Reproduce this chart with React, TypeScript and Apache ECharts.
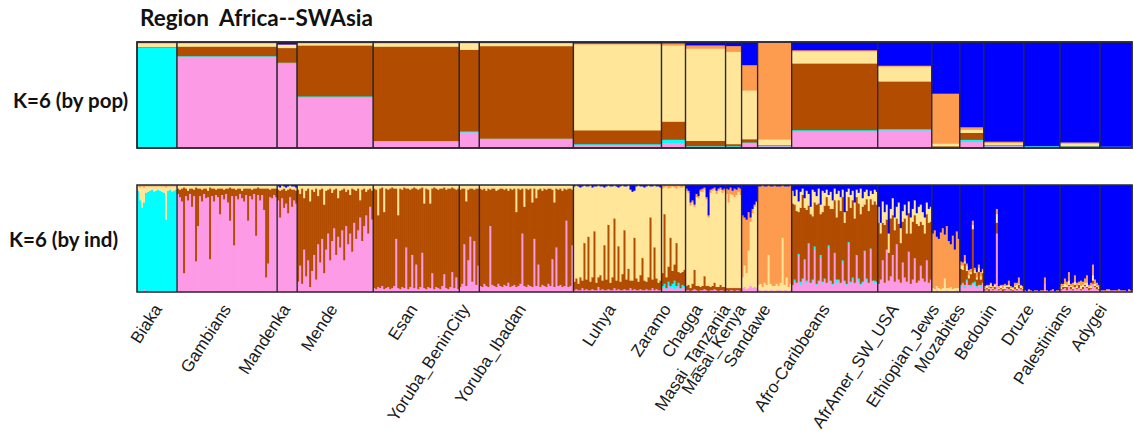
import React, { useEffect, useRef } from "react";
import * as echarts from "echarts";

// ---------------- DATA ----------------
const populations = [
  "Biaka", "Gambians", "Mandenka", "Mende", "Esan", "Yoruba_BeninCity", "Yoruba_Ibadan",
  "Luhya", "Zaramo", "Chagga", "Masai_Tanzania", "Masai_Kenya", "Sandawe", "Afro-Caribbeans",
  "AfrAmer_SW_USA", "Ethiopian_Jews", "Mozabites", "Bedouin", "Druze", "Palestinians", "Adygei",
];
// number of individuals drawn per population (bar widths)
const popSizes = [20, 50, 10, 38, 43, 10, 47, 44, 12, 20, 8, 8, 17, 43, 27, 14, 12, 20, 18, 20, 16];

// K=6 cluster order (bottom -> top): pink, cyan, brown, yellow, orange, blue
const clusterNames = ["pink", "cyan", "brown", "yellow", "orange", "blue"];

// by-population mean ancestry (%)
const popPink = [0.5, 86.5, 81, 48, 6, 15, 8.5, 3, 5, 1.5, 1.5, 5, 2, 16, 17, 1, 6, 2, 1.5, 1.5, 1];
const popCyan = [94.5, 0.5, 1, 1, 1, 1, 0.5, 1, 3, 0.5, 0.5, 0.5, 0.5, 1.2, 1.2, 0.5, 2, 0.5, 0.5, 0.3, 0.5];
const popBrown = [0.5, 9, 14, 48, 89, 77, 87, 13, 17, 5, 2, 3, 0.5, 63, 45, 0.5, 6.5, 0.5, 0, 0.5, 0];
const popYellow = [3.5, 3, 3, 2, 3, 6, 2.5, 81, 71, 86, 87, 46, 5.5, 11.5, 14, 2.5, 3, 2, 0, 2, 0];
const popOrange = [1, 1, 0.5, 1, 1, 1, 1, 1, 2, 3, 5.5, 24, 91.5, 1, 1, 47, 2.5, 1.2, 0, 1.2, 0];
const popBlue = [0, 0, 2, 0, 0, 0, 0, 1, 1, 3, 3.5, 21.5, 0, 7.5, 22, 48.5, 80, 93.8, 98, 94.5, 98.5];

// by-individual ancestry (%), the main cluster of each population is the remainder
const biakaPink = [1, 1, 1, 3, 1, 1, 1, 1, 1, 1, 1, 1, 1, 1, 1, 1, 1, 1, 1, 1];
const biakaYellow = [4, 12, 20, 14, 6, 5, 4, 3, 5, 4, 3, 4, 5, 6, 30, 4, 3, 5, 4, 3];
const biakaOrange = [1, 2, 1, 2, 1, 1, 1, 1, 1, 1, 1, 1, 1, 1, 2, 1, 1, 1, 1, 1];

const gambiansBrown = [5, 7, 12, 80, 7, 9, 5, 17, 6, 69, 35, 7, 11, 5, 9, 6, 67, 7, 12, 5, 8, 24, 6, 9, 5, 13, 31, 7, 53, 6, 10, 5, 7, 12, 6, 30, 7, 9, 5, 44, 7, 11, 6, 20, 83, 70, 7, 9, 6, 8];
const gambiansYellow = [3, 4, 3, 2, 3, 5, 3, 3, 4, 2, 3, 3, 4, 3, 3, 5, 2, 3, 3, 4, 3, 3, 3, 4, 3, 3, 2, 3, 3, 4, 3, 3, 5, 3, 3, 3, 3, 4, 3, 3, 2, 3, 3, 3, 3, 3, 4, 3, 3, 3];

const mandenkaBrown = [10, 25, 8, 18, 12, 22, 8, 16, 10, 12];
const mandenkaYellow = [3, 3, 4, 2, 3, 3, 3, 3, 3, 3];
const mandenkaBlue = [1, 2, 0, 1, 2, 1, 0, 1, 1, 2];

const mendePink = [10, 25, 8, 40, 15, 30, 5, 20, 35, 12, 45, 28, 50, 18, 40, 55, 30, 48, 60, 35, 52, 42, 58, 30, 62, 45, 55, 38, 65, 50, 58, 70, 48, 62, 72, 55, 80, 68];
const mendeYellow = [4, 8, 3, 12, 5, 3, 15, 4, 6, 3, 10, 4, 3, 18, 5, 4, 3, 7, 4, 3, 12, 5, 4, 3, 6, 4, 9, 3, 4, 5, 3, 14, 4, 3, 6, 4, 3, 5];

const esanPink = [4, 3, 5, 4, 6, 3, 4, 5, 3, 4, 6, 50, 4, 3, 5, 4, 42, 3, 5, 35, 4, 26, 3, 5, 37, 4, 3, 5, 4, 18, 3, 5, 4, 3, 6, 17, 4, 3, 5, 19, 4, 14, 3];
const esanYellow = [3, 4, 28, 3, 2, 25, 3, 4, 3, 2, 3, 3, 28, 3, 4, 2, 3, 3, 4, 3, 2, 3, 4, 3, 2, 17, 3, 4, 17, 3, 2, 3, 4, 3, 3, 2, 4, 3, 3, 2, 3, 4, 3];

const ybcPink = [5, 8, 45, 6, 30, 52, 10, 48, 7, 25];
const ybcYellow = [4, 3, 3, 15, 4, 3, 3, 4, 3, 3];

const yiPink = [6, 5, 8, 6, 5, 62, 7, 6, 5, 8, 6, 5, 7, 6, 9, 5, 6, 7, 5, 6, 8, 55, 6, 5, 7, 6, 5, 50, 6, 26, 5, 7, 6, 5, 8, 6, 31, 5, 42, 6, 7, 5, 6, 67, 5, 6, 44];
const yiYellow = [3, 4, 3, 5, 3, 4, 3, 3, 5, 4, 3, 3, 4, 3, 5, 3, 4, 3, 25, 3, 4, 3, 20, 3, 4, 3, 16, 3, 12, 4, 3, 5, 3, 4, 3, 3, 4, 16, 3, 4, 3, 5, 3, 4, 3, 3, 4];

const luhyaPink = [2, 3, 2, 2, 4, 2, 3, 2, 2, 3, 2, 2, 5, 2, 3, 2, 2, 3, 2, 2, 4, 2, 3, 2, 2, 3, 2, 2, 4, 2, 3, 2, 2, 3, 2, 2, 3, 2, 2, 4, 2, 3, 2, 2];
const luhyaBrown = [8, 10, 6, 12, 7, 44, 9, 50, 8, 11, 55, 7, 9, 14, 8, 42, 10, 60, 7, 12, 65, 9, 40, 8, 15, 55, 10, 20, 7, 9, 48, 11, 8, 13, 30, 9, 7, 12, 68, 8, 40, 10, 7, 9];
const luhyaBlue = [1, 0, 1, 2, 1, 0, 1, 1, 0, 2, 1, 1, 0, 1, 1, 2, 1, 0, 1, 1, 0, 1, 2, 1, 0, 1, 1, 0, 4, 6, 5, 1, 0, 1, 1, 2, 1, 0, 1, 1, 0, 1, 1, 2];

const zaramoPink = [4, 5, 3, 6, 4, 5, 3, 4, 6, 3, 5, 4];
const zaramoCyan = [2, 3, 1, 4, 2, 3, 8, 2, 3, 1, 2, 2];
const zaramoBrown = [12, 65, 10, 14, 45, 12, 15, 40, 10, 14, 12, 15];
const zaramoOrange = [3, 2, 1, 3, 2, 1, 2, 3, 1, 2, 2, 1];

const chaggaPink = [2, 2, 1, 2, 3, 2, 1, 2, 2, 3, 2, 1, 2, 2, 3, 2, 1, 2, 2, 1];
const chaggaBrown = [4, 5, 3, 6, 18, 4, 5, 3, 4, 12, 4, 5, 3, 4, 6, 3, 4, 5, 3, 4];
const chaggaOrange = [2, 2, 3, 2, 2, 3, 2, 2, 3, 2, 2, 2, 3, 2, 2, 3, 2, 2, 3, 2];
const chaggaBlue = [3, 5, 16, 14, 18, 8, 10, 4, 3, 2, 11, 28, 4, 3, 2, 5, 3, 2, 4, 3];

const masaiTPink = [2, 1, 2, 2, 1, 2, 2, 1];
const masaiTBrown = [2, 3, 2, 2, 3, 2, 2, 3];
const masaiTOrange = [5, 12, 6, 4, 8, 5, 4, 6];
const masaiTBlue = [3, 4, 2, 5, 3, 4, 2, 3];

const masaiKPink = [4, 5, 3, 4, 6, 4, 5, 4];
const masaiKYellow = [10, 20, 15, 35, 60, 70, 75, 80];
const masaiKBlue = [28, 30, 32, 25, 30, 22, 18, 15];

const sandawePink = [2, 2, 1, 2, 2, 1, 2, 2, 1, 2, 2, 2, 1, 2, 2, 1, 2];
const sandaweYellow = [5, 6, 4, 7, 5, 34, 6, 4, 5, 6, 4, 7, 50, 5, 12, 4, 6];
const sandaweBlue = [1, 1, 0, 1, 1, 0, 1, 1, 0, 1, 1, 1, 0, 1, 1, 1, 0];

const acPink = [6, 10, 8, 35, 7, 12, 30, 9, 45, 8, 11, 40, 7, 10, 33, 9, 12, 8, 42, 10, 7, 36, 9, 11, 8, 28, 10, 7, 46, 9, 12, 8, 34, 10, 7, 9, 38, 11, 8, 40, 10, 9, 9];
const acCyan = [1, 2, 1, 1, 3, 1, 1, 2, 1, 1, 1, 3, 1, 1, 2, 1, 1, 1, 2, 1, 1, 1, 3, 1, 1, 2, 1, 1, 1, 1, 2, 1, 1, 3, 1, 1, 1, 2, 1, 1, 1, 2, 1];
const acYellow = [12, 8, 20, 10, 15, 6, 9, 18, 11, 7, 25, 10, 8, 14, 9, 20, 12, 7, 10, 16, 8, 11, 22, 9, 13, 7, 10, 18, 8, 12, 9, 15, 7, 10, 24, 8, 12, 9, 14, 8, 10, 11, 12];
const acBlue = [5, 10, 4, 15, 6, 3, 12, 5, 8, 20, 4, 6, 10, 3, 18, 5, 7, 4, 9, 6, 14, 3, 8, 5, 11, 4, 25, 6, 3, 9, 5, 16, 4, 7, 3, 12, 6, 4, 10, 5, 8, 4, 6];

const aaPink = [8, 12, 30, 9, 40, 11, 15, 35, 10, 45, 12, 9, 28, 14, 10, 38, 8, 12, 32, 9, 11, 25, 13, 10, 30, 9, 12];
const aaYellow = [15, 10, 20, 12, 14, 18, 9, 16, 12, 11, 20, 14, 10, 13, 17, 11, 15, 12, 14, 10, 18, 16, 12, 15, 11, 13, 14];
const aaBlue = [20, 35, 15, 25, 18, 45, 22, 12, 30, 20, 16, 40, 24, 18, 28, 15, 30, 22, 14, 26, 20, 18, 25, 30, 16, 22, 20];

const ejPink = [1, 1, 2, 1, 1, 1, 1, 2, 1, 1, 1, 1, 2, 1];
const ejYellow = [3, 2, 4, 3, 2, 3, 12, 2, 3, 4, 2, 3, 2, 3];
const ejBlue = [45, 42, 48, 50, 44, 40, 46, 38, 52, 55, 47, 60, 43, 50];

const mozPink = [5, 8, 4, 10, 6, 5, 8, 7, 4, 6, 5, 8];
const mozCyan = [2, 1, 3, 2, 1, 2, 1, 3, 2, 1, 2, 1];
const mozBrown = [15, 12, 20, 8, 6, 10, 50, 8, 6, 12, 5, 9];
const mozYellow = [3, 4, 2, 5, 3, 2, 4, 3, 2, 4, 3, 2];
const mozOrange = [4, 3, 6, 2, 5, 3, 4, 2, 5, 3, 4, 2];

const bedPink = [2, 3, 1, 4, 2, 3, 55, 2, 3, 1, 2, 4, 3, 2, 1, 3, 2, 4, 3, 2];
const bedBrown = [1, 1, 2, 1, 1, 2, 10, 1, 1, 2, 1, 1, 2, 1, 1, 2, 1, 3, 1, 1];
const bedYellow = [1, 2, 1, 3, 1, 2, 8, 1, 2, 1, 3, 1, 2, 1, 2, 1, 4, 1, 2, 1];
const bedOrange = [2, 1, 3, 1, 2, 1, 5, 2, 1, 3, 2, 1, 4, 2, 1, 3, 2, 6, 1, 2];

const druzePink = [1, 1, 2, 1, 1, 1, 1, 1, 1, 1, 8, 1, 1, 1, 2, 1, 1, 1];
const druzeOrange = [1, 0, 1, 1, 0, 1, 1, 0, 1, 1, 6, 1, 0, 1, 1, 0, 1, 1];

const palPink = [2, 3, 4, 2, 6, 3, 2, 5, 3, 4, 2, 3, 6, 4, 2, 3, 8, 5, 3, 2];
const palBrown = [1, 2, 1, 3, 1, 2, 1, 2, 1, 3, 1, 2, 1, 1, 2, 1, 3, 1, 2, 1];
const palYellow = [2, 1, 3, 2, 4, 1, 2, 3, 2, 1, 3, 2, 2, 4, 1, 2, 5, 2, 1, 2];
const palOrange = [3, 2, 5, 3, 8, 2, 4, 6, 3, 2, 5, 3, 4, 7, 2, 3, 10, 4, 3, 2];

const adyPink = [1, 2, 1, 1, 3, 1, 1, 2, 1, 1, 2, 1, 1, 1, 2, 1];
const adyOrange = [1, 0, 1, 2, 0, 1, 1, 0, 1, 2, 0, 1, 1, 0, 1, 1];

// cluster indices: 0 pink, 1 cyan, 2 brown, 3 yellow, 4 orange, 5 blue
const indSpec: { main: number; parts: [number, number[]][] }[] = [
  { main: 1, parts: [[0, biakaPink], [3, biakaYellow], [4, biakaOrange]] },
  { main: 0, parts: [[2, gambiansBrown], [3, gambiansYellow]] },
  { main: 0, parts: [[2, mandenkaBrown], [3, mandenkaYellow], [5, mandenkaBlue]] },
  { main: 2, parts: [[0, mendePink], [3, mendeYellow]] },
  { main: 2, parts: [[0, esanPink], [3, esanYellow]] },
  { main: 2, parts: [[0, ybcPink], [3, ybcYellow]] },
  { main: 2, parts: [[0, yiPink], [3, yiYellow]] },
  { main: 3, parts: [[0, luhyaPink], [2, luhyaBrown], [5, luhyaBlue]] },
  { main: 3, parts: [[0, zaramoPink], [1, zaramoCyan], [2, zaramoBrown], [4, zaramoOrange]] },
  { main: 3, parts: [[0, chaggaPink], [2, chaggaBrown], [4, chaggaOrange], [5, chaggaBlue]] },
  { main: 3, parts: [[0, masaiTPink], [2, masaiTBrown], [4, masaiTOrange], [5, masaiTBlue]] },
  { main: 4, parts: [[0, masaiKPink], [3, masaiKYellow], [5, masaiKBlue]] },
  { main: 4, parts: [[0, sandawePink], [3, sandaweYellow], [5, sandaweBlue]] },
  { main: 2, parts: [[0, acPink], [1, acCyan], [3, acYellow], [5, acBlue]] },
  { main: 2, parts: [[0, aaPink], [3, aaYellow], [5, aaBlue]] },
  { main: 4, parts: [[0, ejPink], [3, ejYellow], [5, ejBlue]] },
  { main: 5, parts: [[0, mozPink], [1, mozCyan], [2, mozBrown], [3, mozYellow], [4, mozOrange]] },
  { main: 5, parts: [[0, bedPink], [2, bedBrown], [3, bedYellow], [4, bedOrange]] },
  { main: 5, parts: [[0, druzePink], [4, druzeOrange]] },
  { main: 5, parts: [[0, palPink], [2, palBrown], [3, palYellow], [4, palOrange]] },
  { main: 5, parts: [[0, adyPink], [4, adyOrange]] },
];

// ---------------- STYLE ----------------
const clusterColors = ["#FC9AE5", "#00FFFF", "#B24C00", "#FFE699", "#FD9B4E", "#0000FF"];
const frameColor = "#2a2a33";

function buildRows() {
  const popRows: number[][] = [];
  const indRows: number[][] = [];
  const bounds: number[][] = [];
  let start = 0;
  popSizes.forEach((n, p) => {
    const raw = [popPink[p], popCyan[p], popBrown[p], popYellow[p], popOrange[p], popBlue[p]];
    const s = raw.reduce((a, b) => a + b, 0);
    popRows.push([start, start + n, ...raw.map((v) => (v * 100) / s)]);
    const spec = indSpec[p];
    for (let j = 0; j < n; j++) {
      const v = [0, 0, 0, 0, 0, 0];
      let sum = 0;
      spec.parts.forEach(([k, arr]) => {
        v[k] = arr[j] ?? 0;
        sum += v[k];
      });
      v[spec.main] = Math.max(0, 100 - sum);
      indRows.push([start + j, start + j + 1, ...v]);
    }
    bounds.push([start, start + n]);
    start += n;
  });
  return { popRows, indRows, bounds, total: start };
}

function stackRender(outline: boolean) {
  return (params: any, api: any) => {
    const x0 = api.value(0);
    const x1 = api.value(1);
    const children: any[] = [];
    let acc = 0;
    for (let k = 0; k < 6; k++) {
      const v = api.value(2 + k);
      if (!(v > 0)) continue;
      const p0 = api.coord([x0, acc]);
      const p1 = api.coord([x1, acc + v]);
      children.push({
        type: "rect",
        shape: { x: p0[0], y: p1[1], width: p1[0] - p0[0] + (outline ? 0 : 0.6), height: p0[1] - p1[1] + 0.4 },
        style: { fill: clusterColors[k] },
      });
      acc += v;
    }
    if (outline) {
      const a = api.coord([x0, 100]);
      const b = api.coord([x1, 0]);
      children.push({
        type: "rect",
        shape: { x: a[0], y: a[1], width: b[0] - a[0], height: b[1] - a[1] },
        style: { fill: "none", stroke: frameColor, lineWidth: 1.3 },
      });
    }
    return { type: "group", children };
  };
}

export default function App() {
  const ref = useRef<HTMLDivElement>(null);
  useEffect(() => {
    if (!ref.current) return;
    const chart = echarts.init(ref.current, undefined, { renderer: "svg" });
    const { popRows, indRows, bounds, total } = buildRows();
    const xMax = total + 1;
    const gridLeft = 137;

    const labelRender = (params: any, api: any) => {
      const i = params.dataIndex;
      const s = api.value(0);
      const e = api.value(1);
      const children: any[] = [];
      if (i > 0) {
        const t = api.coord([s, 100]);
        const b = api.coord([s, 0]);
        children.push({
          type: "line",
          shape: { x1: t[0], y1: t[1], x2: b[0], y2: b[1] },
          style: { stroke: frameColor, lineWidth: 1.4 },
        });
      }
      const c = api.coord([(s + e) / 2, 0]);
      const ax = c[0] + 1 - 0.0146 * (c[0] - gridLeft - 20);
      children.push({
        type: "text",
        x: ax,
        y: c[1] + 14,
        rotation: (57 * Math.PI) / 180,
        style: {
          text: populations[i],
          x: 0,
          y: 0,
          align: "right",
          verticalAlign: "middle",
          textAlign: "right",
          textVerticalAlign: "middle",
          fontSize: 17,
          fontFamily: '"Liberation Sans", Arial, sans-serif',
          fill: "#1a1a1a",
        },
      });
      return { type: "group", children };
    };

    const frameRender = (params: any, api: any) => {
      const a = api.coord([0, 100]);
      const b = api.coord([api.value(1), 0]);
      return {
        type: "rect",
        shape: { x: a[0], y: a[1], width: b[0] - a[0], height: b[1] - a[1] },
        style: { fill: "none", stroke: frameColor, lineWidth: 1.6 },
      };
    };

    chart.setOption({
      animation: false,
      grid: [
        { left: gridLeft, top: 42, width: 999, height: 106 },
        { left: gridLeft, top: 185, width: 999, height: 107 },
      ],
      xAxis: [
        { type: "value", gridIndex: 0, min: 0, max: xMax, show: false },
        { type: "value", gridIndex: 1, min: 0, max: xMax, show: false },
      ],
      yAxis: [
        { type: "value", gridIndex: 0, min: 0, max: 100, show: false },
        { type: "value", gridIndex: 1, min: 0, max: 100, show: false },
      ],
      graphic: [
        {
          type: "text",
          left: 140,
          top: 6,
          style: { text: "Region  Africa--SWAsia", fontSize: 22.5, fontWeight: "bold", fontFamily: "Lato, sans-serif", fill: "#111" },
        },
        {
          type: "text",
          left: 13,
          top: 89,
          style: { text: "K=6 (by pop)", fontSize: 20.5, fontWeight: "bold", fontFamily: "Lato, sans-serif", fill: "#111" },
        },
        {
          type: "text",
          left: 9,
          top: 228,
          style: { text: "K=6 (by ind)", fontSize: 20.5, fontWeight: "bold", fontFamily: "Lato, sans-serif", fill: "#111" },
        },
      ],
      series: [
        {
          type: "custom",
          name: "by pop",
          xAxisIndex: 0,
          yAxisIndex: 0,
          silent: true,
          renderItem: stackRender(true),
          data: popRows,
          z: 2,
        },
        {
          type: "custom",
          name: "by ind",
          xAxisIndex: 1,
          yAxisIndex: 1,
          silent: true,
          renderItem: stackRender(false),
          data: indRows,
          z: 2,
        },
        {
          type: "custom",
          name: "populations",
          xAxisIndex: 1,
          yAxisIndex: 1,
          silent: true,
          renderItem: labelRender,
          data: bounds,
          z: 3,
        },
        {
          type: "custom",
          name: "frame top",
          xAxisIndex: 0,
          yAxisIndex: 0,
          silent: true,
          renderItem: frameRender,
          data: [[0, total]],
          z: 4,
        },
        {
          type: "custom",
          name: "frame bottom",
          xAxisIndex: 1,
          yAxisIndex: 1,
          silent: true,
          renderItem: frameRender,
          data: [[0, total]],
          z: 4,
        },
      ],
    });
    return () => chart.dispose();
  }, []);
  return (
    <div
      ref={ref}
      style={{ position: "absolute", left: 0, top: 0, width: 1134, height: 437, background: "#fff" }}
    />
  );
}
